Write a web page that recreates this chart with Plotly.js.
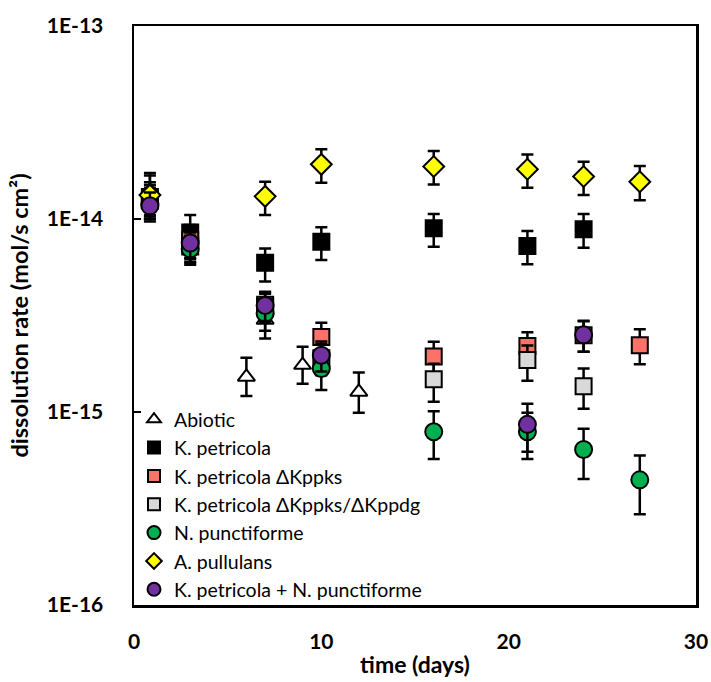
<!DOCTYPE html>
<html>
<head>
<meta charset="utf-8">
<script src="https://cdn.plot.ly/plotly-3.0.1.min.js"></script>
<style>html,body{margin:0;padding:0;background:#fff;}#chart{width:711px;height:682px;}</style>
</head>
<body>
<div id="chart"></div>
<script>
// ---- data ----
const abioticDays = [0.85, 6, 7, 9, 12];
const abioticVals = [1.4e-14, 1.52e-15, 3.0e-15, 1.75e-15, 1.27e-15];
const abioticErrP = [0.33e-14, 0.39e-15, 0.5e-15, 0.43e-15, 0.33e-15];
const abioticErrM = [0.25e-14, 0.31e-15, 0.6e-15, 0.35e-15, 0.28e-15];

const kpDays = [0.85, 3, 7, 10, 16, 21, 24];
const kpVals = [1.3e-14, 8.5e-15, 5.94e-15, 7.62e-15, 8.95e-15, 7.25e-15, 8.85e-15];
const kpErrP = [0.25e-14, 2.0e-15, 1.1e-15, 1.45e-15, 1.65e-15, 1.42e-15, 1.75e-15];
const kpErrM = [0.3e-14, 2.5e-15, 1.2e-15, 1.48e-15, 1.76e-15, 1.43e-15, 1.75e-15];

const pksDays = [0.85, 3, 7, 10, 16, 21, 24, 27];
const pksVals = [1.25e-14, 7.8e-15, 3.6e-15, 2.45e-15, 1.94e-15, 2.2e-15, 2.5e-15, 2.22e-15];
const pksErrP = [0.25e-14, 1.5e-15, 0.6e-15, 0.45e-15, 0.37e-15, 0.39e-15, 0.45e-15, 0.46e-15];
const pksErrM = [0.25e-14, 1.5e-15, 0.6e-15, 0.45e-15, 0.37e-15, 0.39e-15, 0.45e-15, 0.45e-15];

const pdgDays = [0.85, 3, 7, 10, 16, 21, 24];
const pdgVals = [1.25e-14, 7.2e-15, 3.5e-15, 1.9e-15, 1.48e-15, 1.86e-15, 1.36e-15];
const pdgErrP = [0.2e-14, 1.3e-15, 0.6e-15, 0.35e-15, 0.3e-15, 0.35e-15, 0.32e-15];
const pdgErrM = [0.2e-14, 1.3e-15, 0.6e-15, 0.35e-15, 0.35e-15, 0.41e-15, 0.32e-15];

const npDays = [0.85, 3, 7, 10, 16, 21, 24, 27];
const npVals = [1.2e-14, 7.0e-15, 3.24e-15, 1.68e-15, 7.9e-16, 7.9e-16, 6.4e-16, 4.45e-16];
const npErrP = [0.2e-14, 1.2e-15, 0.6e-15, 0.35e-15, 2.2e-16, 2.0e-16, 1.8e-16, 1.5e-16];
const npErrM = [0.2e-14, 1.2e-15, 0.6e-15, 0.38e-15, 2.2e-16, 2.2e-16, 1.9e-16, 1.5e-16];

const apDays = [0.85, 7, 10, 16, 21, 24, 27];
const apVals = [1.33e-14, 1.31e-14, 1.92e-14, 1.87e-14, 1.81e-14, 1.66e-14, 1.56e-14];
const apErrP = [0.35e-14, 0.25e-14, 0.38e-14, 0.38e-14, 0.35e-14, 0.32e-14, 0.32e-14];
const apErrM = [0.3e-14, 0.26e-14, 0.38e-14, 0.36e-14, 0.36e-14, 0.33e-14, 0.31e-14];

const kpnpDays = [0.85, 3, 7, 10, 21, 24];
const kpnpVals = [1.17e-14, 7.5e-15, 3.56e-15, 1.97e-15, 8.63e-16, 2.51e-15];
const kpnpErrP = [0.2e-14, 1.3e-15, 0.6e-15, 0.35e-15, 2.4e-16, 0.46e-15];
const kpnpErrM = [0.2e-14, 1.3e-15, 0.6e-15, 0.35e-15, 2.4e-16, 0.46e-15];

const seriesNames = ['Abiotic', 'K. petricola', 'K. petricola ΔKppks', 'K. petricola ΔKppks/ΔKppdg',
                     'N. punctiforme', 'A. pullulans', 'K. petricola + N. punctiforme'];
const yTickVals = [1e-16, 1e-15, 1e-14, 1e-13];
const yTickText = ['1E-16', '1E-15', '1E-14', '1E-13'];
const xTickVals = [0, 10, 20, 30];

const FONT = 'Lato, "Open Sans", sans-serif';

const styles = [
  {symbol: 'triangle-up', color: '#ffffff', size: 15, lsize: 12},
  {symbol: 'square', color: '#000000', size: 16, lsize: 12},
  {symbol: 'square', color: '#FA7268', size: 16, lsize: 12},
  {symbol: 'square', color: '#D9D9D9', size: 16, lsize: 12},
  {symbol: 'circle', color: '#00B050', size: 17, lsize: 13},
  {symbol: 'diamond', color: '#FFFF00', size: 16, lsize: 12},
  {symbol: 'circle', color: '#7030A0', size: 17, lsize: 13}
];

const xs = [abioticDays, kpDays, pksDays, pdgDays, npDays, apDays, kpnpDays];
const ys = [abioticVals, kpVals, pksVals, pdgVals, npVals, apVals, kpnpVals];
const eps = [abioticErrP, kpErrP, pksErrP, pdgErrP, npErrP, apErrP, kpnpErrP];
const ems = [abioticErrM, kpErrM, pksErrM, pdgErrM, npErrM, apErrM, kpnpErrM];

const data = [];
for (let i = 0; i < seriesNames.length; i++) {
  const s = styles[i];
  data.push({
    type: 'scatter', mode: 'markers', name: seriesNames[i], x: xs[i], y: ys[i],
    showlegend: false, legendgroup: 'g' + i,
    marker: {symbol: s.symbol, color: s.color, size: s.size, line: {color: '#000', width: 2}},
    error_y: {type: 'data', symmetric: false, array: eps[i], arrayminus: ems[i],
              color: '#000', thickness: 2.5, width: 6}
  });
}
// legend entries (smaller legend symbols like the reference)
for (let i = 0; i < seriesNames.length; i++) {
  const s = styles[i];
  data.push({
    type: 'scatter', mode: 'markers', name: seriesNames[i], x: [null], y: [null],
    showlegend: true, legendgroup: 'g' + i,
    marker: {symbol: s.symbol, color: s.color, size: s.lsize, line: {color: '#000', width: 2}}
  });
}

const layout = {
  width: 711, height: 682,
  margin: {l: 134, r: 15, t: 26, b: 77},
  paper_bgcolor: '#fff', plot_bgcolor: '#fff',
  font: {family: FONT, color: '#000'},
  showlegend: true,
  legend: {x: 0.0, y: 0.354, xanchor: 'left', yanchor: 'top',
           bgcolor: 'rgba(0,0,0,0)', font: {family: FONT, size: 19.5, color: '#000'},
           tracegroupgap: 0, itemwidth: 30, traceorder: 'normal'},
  xaxis: {
    range: [0, 30], tickvals: xTickVals, ticks: 'inside', ticklen: 0,
    showgrid: false, zeroline: false, showline: true, mirror: true,
    linecolor: '#000', linewidth: 2.5,
    tickfont: {family: FONT, size: 21, color: '#000', weight: 'bold'},
    ticklabelstandoff: 16,
    title: {text: '<b>time (days)</b>', font: {family: FONT, size: 23, color: '#000'}, standoff: 5}
  },
  yaxis: {
    type: 'log', range: [-16, -13], tickvals: yTickVals, ticktext: yTickText,
    ticks: 'inside', ticklen: 7, tickwidth: 2.5, tickcolor: '#000',
    showgrid: false, zeroline: false, showline: true, mirror: true,
    linecolor: '#000', linewidth: 2.5,
    tickfont: {family: FONT, size: 21, color: '#000', weight: 'bold'},
    ticklabelstandoff: 24,
    title: {text: '<b>dissolution rate (mol/s cm²)</b>', font: {family: FONT, size: 23.5, color: '#000'}, standoff: 12}
  }
};

Plotly.newPlot('chart', data, layout, {staticPlot: true, displayModeBar: false});
</script>
</body>
</html>
